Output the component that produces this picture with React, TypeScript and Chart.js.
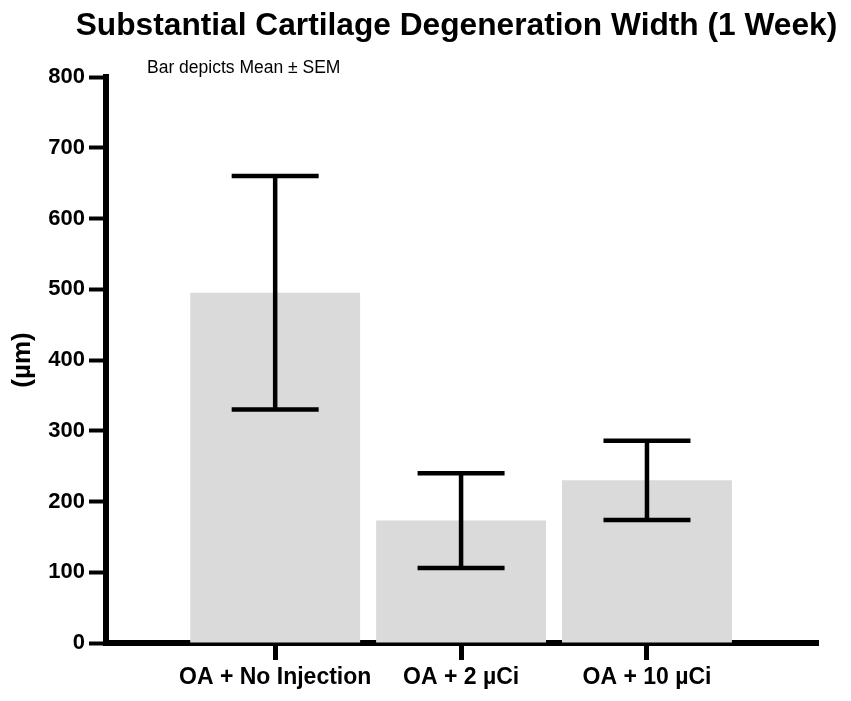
import { useEffect, useRef } from "react";
import { Chart, registerables } from "chart.js";

Chart.register(...registerables);

const title = "Substantial Cartilage Degeneration Width (1 Week)";
const note = "Bar depicts Mean ± SEM";
const categories = ["OA + No Injection", "OA + 2 µCi", "OA + 10 µCi"];
const positions = [1, 2, 3];
const means = [495, 173, 230];
const sems = [165, 67, 56];
const yTicks = [0, 100, 200, 300, 400, 500, 600, 700, 800];

const FONT = "'Liberation Sans', Arial, Helvetica, sans-serif";

// draws the mean ± SEM whiskers, the title and the note in the top left corner
const errorBars = {
  id: "errorBars",
  afterDatasetsDraw(chart: any) {
    const { ctx, scales, chartArea } = chart;
    const x = scales.x;
    const y = scales.y;
    ctx.save();
    ctx.strokeStyle = "#000";
    ctx.lineWidth = 4.5;
    ctx.lineCap = "butt";
    positions.forEach((p, i) => {
      const px = x.getPixelForValue(p);
      const top = y.getPixelForValue(means[i] + sems[i]);
      const bottom = y.getPixelForValue(means[i] - sems[i]);
      const half = 43.5;
      ctx.beginPath();
      ctx.moveTo(px, top);
      ctx.lineTo(px, bottom);
      ctx.moveTo(px - half, top);
      ctx.lineTo(px + half, top);
      ctx.moveTo(px - half, bottom);
      ctx.lineTo(px + half, bottom);
      ctx.stroke();
    });
    ctx.fillStyle = "#000";
    ctx.textBaseline = "alphabetic";

    ctx.font = `bold 31.7px ${FONT}`;
    ctx.textAlign = "center";
    ctx.fillText(title, (chartArea.left + chartArea.right) / 2 - 5.5, 35);

    ctx.font = `17.5px ${FONT}`;
    ctx.textAlign = "left";
    ctx.fillText(note, chartArea.left + 41, chartArea.top - 4);
    ctx.restore();
  },
};

export default function App() {
  const canvasRef = useRef<HTMLCanvasElement>(null);

  useEffect(() => {
    document.body.style.margin = "0";
    if (!canvasRef.current) return;

    const chart = new Chart(canvasRef.current, {
      type: "bar",
      data: {
        datasets: [
          {
            data: positions.map((p, i) => ({ x: p, y: means[i] })),
            backgroundColor: "#dadada",
            borderWidth: 0,
            barPercentage: 0.914,
            categoryPercentage: 1,
          },
        ],
      },
      options: {
        animation: false,
        responsive: true,
        maintainAspectRatio: false,
        layout: { padding: { left: 0, right: 33, top: 77, bottom: 0 } },
        plugins: {
          legend: { display: false },
          tooltip: { enabled: false },
          title: { display: false },
        },
        scales: {
          x: {
            type: "linear",
            min: 0.09,
            max: 3.92,
            offset: false,
            afterBuildTicks: (scale: any) => {
              scale.ticks = positions.map((v) => ({ value: v }));
            },
            afterFit: (scale: any) => {
              scale.height = 58;
            },
            border: { color: "#000", width: 6 },
            grid: {
              offset: false,
              drawOnChartArea: false,
              drawTicks: true,
              tickLength: 17,
              tickWidth: 5,
              tickColor: "#000",
            },
            ticks: {
              color: "#000",
              padding: 4,
              maxRotation: 0,
              font: { family: FONT, size: 23, weight: "bold" },
              callback: (value: any) => categories[positions.indexOf(Number(value))] ?? "",
            },
          },
          y: {
            min: 0,
            max: 800,
            afterBuildTicks: (scale: any) => {
              scale.ticks = yTicks.map((v) => ({ value: v }));
            },
            afterFit: (scale: any) => {
              scale.width = 106;
            },
            border: { color: "#000", width: 6 },
            grid: {
              offset: false,
              drawOnChartArea: false,
              drawTicks: true,
              tickLength: 17,
              tickWidth: 4,
              tickColor: "#000",
            },
            ticks: {
              color: "#000",
              padding: 4,
              font: { family: FONT, size: 22, weight: "bold" },
            },
            title: {
              display: true,
              text: "(µm)",
              color: "#000",
              font: { family: FONT, size: 26, weight: "bold" },
              padding: { top: 7, bottom: 0 },
            },
          },
        },
      },
      plugins: [errorBars],
    });

    return () => {
      chart.destroy();
    };
  }, []);

  return (
    <div style={{ width: 851, height: 701, position: "relative", background: "#fff" }}>
      <canvas ref={canvasRef}></canvas>
    </div>
  );
}
